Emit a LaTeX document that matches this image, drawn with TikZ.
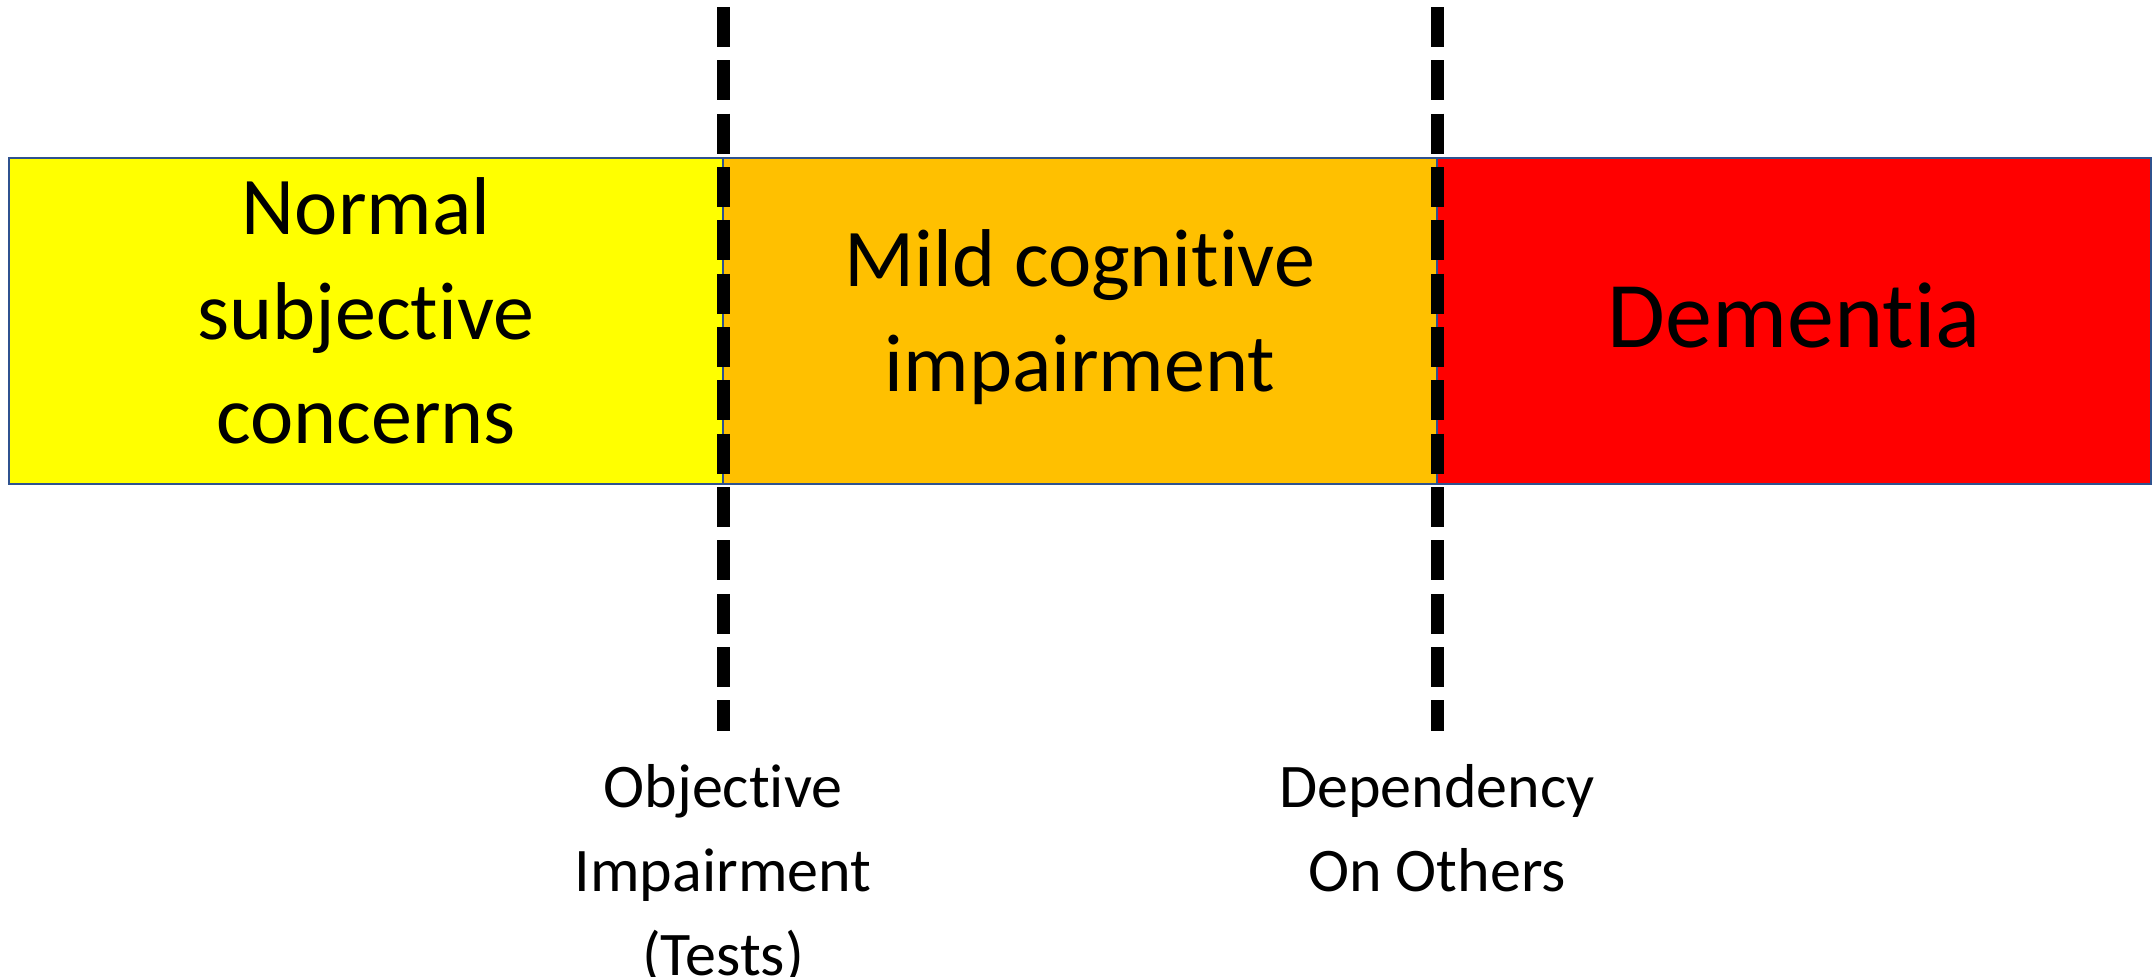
\documentclass[tikz,border=0pt]{standalone}
\usepackage{fontspec}
\setmainfont{Carlito}[Ligatures=NoCommon]
\definecolor{normalyellow}{RGB}{255,255,0}
\definecolor{mciorange}{RGB}{255,192,0}
\definecolor{dementiared}{RGB}{255,0,0}
\definecolor{segline}{RGB}{47,82,143}

\begin{document}
\begin{tikzpicture}[x=0.5pt,y=-0.5pt,line join=miter,
  stage/.style={draw=segline,line width=1.2pt,minimum width=357pt,minimum height=163pt,inner sep=0pt},
  stagetext/.style={inner sep=0pt,align=center,font=\fontsize{41}{52.3}\selectfont},
  cutoff/.style={line width=6.5pt,dash pattern=on 20pt off 6.67pt},
  criterion/.style={anchor=north,inner sep=0pt,align=center,font=\fontsize{31}{42}\selectfont}]
  \useasboundingbox (0,0) rectangle (2154,976);
  % the three stages
  \node[stage,fill=normalyellow] (normal) at (366,321) {};
  \node[stage,fill=mciorange] (mci) at (1080,321) {};
  \node[stage,fill=dementiared] (dementia) at (1794,321) {};
  \node[stagetext] (normaltext) at ([yshift=5pt]normal.center) {Normal\\subjective\\concerns};
  \node[stagetext] (mcitext) at ([yshift=2pt]mci.center) {Mild cognitive\\impairment};
  \node[stagetext,font=\fontsize{47}{58}\selectfont] (dementiatext) at ([yshift=3pt]dementia.center) {Dementia};
  % cut-offs between them
  \coordinate (objtop) at (723,7);
  \coordinate (objbot) at (723,731);
  \coordinate (deptop) at (1437,7);
  \coordinate (depbot) at (1437,731);
  \draw[cutoff] (objtop) -- (objbot);
  \draw[cutoff] (deptop) -- (depbot);
  \node[criterion] (objective) at (723,764) {Objective\\Impairment\\(Tests)};
  \node[criterion] (dependency) at (1437,764) {Dependency\\On Others};
\end{tikzpicture}
\end{document}
